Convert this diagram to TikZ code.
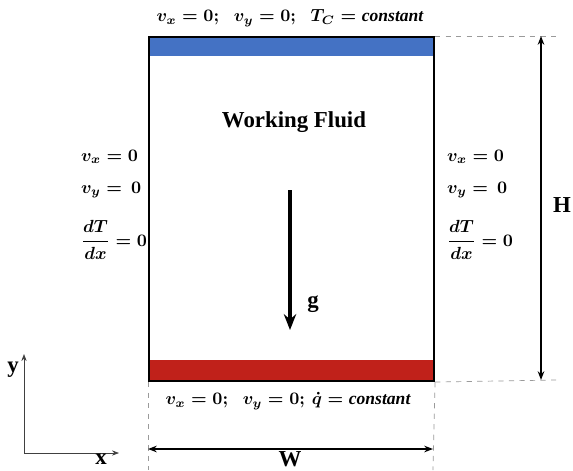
\documentclass[tikz,border=0pt]{standalone}
\usepackage{amsmath,amssymb}
\usepackage{fontspec}
\setmainfont{Liberation Serif}
\usetikzlibrary{positioning,arrows.meta}
\definecolor{cold}{HTML}{4472C4}
\definecolor{hot}{HTML}{C0211A}
\definecolor{guide}{HTML}{9A9A9A}

\begin{document}
\begin{tikzpicture}[x=0.02cm, y=-0.02cm,
    band/.style={minimum width=5.7cm, minimum height=0.4cm, inner sep=0pt, anchor=north west},
    wall/.style={draw, line width=1.2pt, minimum width=5.7cm, minimum height=6.88cm,
                 inner sep=0pt, anchor=north west},
    bc/.style={font=\normalsize\boldmath, inner sep=1pt, anchor=west},
    lbl/.style={font=\fontsize{13}{15}\selectfont\bfseries, inner sep=1pt},
    guide/.style={dashed, draw=guide, thin},
    dim/.style={{Stealth[length=5pt]}-{Stealth[length=5pt]}, thick},
  ]
  \useasboundingbox (0,0) rectangle (573,470);
  % cavity
  \node[band, fill=cold] (coldwall) at (148,36) {};
  \node[band, fill=hot, anchor=south west] (hotwall) at (148,380) {};
  \node[wall] (cavity) at (148,36) {};
  \node[font=\fontsize{13}{15}\selectfont\bfseries] (fluid) at (294,122) {Working Fluid};

  % boundary conditions
  \node[bc, anchor=center] (topbc) at (290,18) {$v_x = 0;\;\; v_y = 0;\;\; T_C = \mathit{constant}$};
  \node[bc, anchor=center] (botbc) at (288,401) {$v_x = 0;\;\; v_y = 0;\, \dot{q} = \mathit{constant}$};
  \node[bc] (lvx) at (79,157) {$v_x = 0$};
  \node[bc] (lvy) at (79,190) {$v_y =\, 0$};
  \node[bc] (ldt) at (79,240) {$\dfrac{dT}{dx} = 0$};
  \node[bc] (rvx) at (445,157) {$v_x = 0$};
  \node[bc] (rvy) at (445,190) {$v_y =\, 0$};
  \node[bc] (rdt) at (445,240) {$\dfrac{dT}{dx} = 0$};

  % gravity
  \coordinate (gtop) at (290,190);
  \coordinate (gbot) at (290,330);
  \draw[-{Stealth[length=9pt, width=7pt]}, line width=1.8pt] (gtop) -- (gbot);
  \node[lbl] (g) at (313,304) {g};

  % height
  \coordinate (htop) at (541,36);
  \coordinate (hbot) at (541,380);
  \draw[guide] (cavity.north east) -- (556,36);
  \draw[guide] (cavity.south east) -- (556,380);
  \draw[dim] (htop) -- (hbot);
  \node[lbl] (H) at (562,205) {H};

  % width
  \coordinate (wleft) at (148,449);
  \coordinate (wright) at (433,449);
  \draw[guide] (cavity.south west) -- (148,470);
  \draw[guide] (cavity.south east) -- (433,470);
  \draw[dim] (wleft) -- (wright);
  \node[lbl] (W) at (290,459) {W};

  % axes
  \coordinate (origin) at (24,453);
  \coordinate (yend) at (24,354);
  \coordinate (xend) at (119,453);
  \draw[-{Stealth[length=4pt]}, thin, black!75] (origin) -- (yend);
  \draw[-{Stealth[length=4pt]}, thin, black!75] (origin) -- (xend);
  \node[lbl] (ylab) at (13,370) {y};
  \node[lbl] (xlab) at (101,459) {x};
\end{tikzpicture}
\end{document}
